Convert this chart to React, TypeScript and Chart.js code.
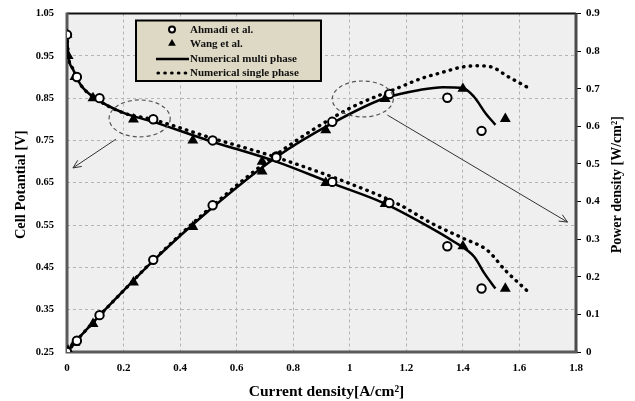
import React, { useEffect, useRef } from "react";
import { Chart, registerables } from "chart.js";
Chart.register(...registerables);

// ---- tick values ----
const xTicks = [0, 0.2, 0.4, 0.6, 0.8, 1, 1.2, 1.4, 1.6, 1.8];
const leftTicks = [0.25, 0.35, 0.45, 0.55, 0.65, 0.75, 0.85, 0.95, 1.05];
const rightTicks = [0, 0.1, 0.2, 0.3, 0.4, 0.5, 0.6, 0.7, 0.8, 0.9];

// ---- series labels ----
const seriesLabels = ["Ahmadi et al.", "Wang et al.", "Numerical multi phase", "Numerical single phase"];

// ---- Ahmadi et al. (experiment) ----
const ahmadiI = [0, 0.035, 0.115, 0.305, 0.515, 0.74, 0.938, 1.14, 1.345, 1.466];
const ahmadiV = [1.0, 0.9, 0.85, 0.8, 0.75, 0.71, 0.652, 0.602, 0.5, 0.4];
const ahmadiP = [0, 0.03, 0.098, 0.245, 0.39, 0.52, 0.612, 0.686, 0.676, 0.588];

// ---- Wang et al. (experiment) ----
const wangI = [0, 0.004, 0.028, 0.092, 0.235, 0.445, 0.69, 0.915, 1.125, 1.4, 1.55];
const wangV = [1.0, 0.95, 0.9, 0.85, 0.8, 0.75, 0.7, 0.65, 0.6, 0.5, 0.4];
const wangP = [0, 0.004, 0.025, 0.075, 0.185, 0.333, 0.48, 0.59, 0.673, 0.7, 0.62];

// ---- Numerical multi phase ----
const multiVI = [0, 0.005, 0.02, 0.05, 0.1, 0.2, 0.3, 0.5, 0.74, 0.94, 1.12, 1.25, 1.37, 1.44, 1.475, 1.515];
const multiV = [1.0, 0.95, 0.92, 0.88, 0.85, 0.815, 0.795, 0.75, 0.7, 0.648, 0.602, 0.557, 0.51, 0.475, 0.437, 0.4];
const multiPI = [0, 0.05, 0.1, 0.2, 0.3, 0.5, 0.74, 0.94, 1.12, 1.25, 1.33, 1.4, 1.44, 1.48, 1.515];
const multiP = [0, 0.044, 0.085, 0.163, 0.239, 0.375, 0.518, 0.609, 0.674, 0.697, 0.704, 0.702, 0.678, 0.635, 0.604];

// ---- Numerical single phase ----
const singleVI = [0, 0.005, 0.02, 0.05, 0.1, 0.2, 0.3, 0.5, 0.74, 1.0, 1.17, 1.296, 1.4, 1.487, 1.55, 1.625];
const singleV = [1.0, 0.95, 0.92, 0.88, 0.85, 0.815, 0.8, 0.758, 0.71, 0.648, 0.6, 0.552, 0.519, 0.49, 0.443, 0.396];
const singlePI = [0, 0.05, 0.1, 0.2, 0.3, 0.5, 0.74, 1.0, 1.17, 1.26, 1.32, 1.4, 1.45, 1.5, 1.56, 1.625];
const singleP = [0, 0.044, 0.085, 0.163, 0.24, 0.379, 0.525, 0.648, 0.702, 0.729, 0.742, 0.758, 0.761, 0.758, 0.732, 0.705];

// ---- annotations (data units, left axis) ----
const ellipseCx = [0.257, 1.046];
const ellipseCy = [0.802, 0.848];
const ellipseRx = [0.108, 0.108];
const ellipseRy = [0.0437, 0.0425];
const arrowFrom = [[0.173, 0.753], [1.133, 0.81]];
const arrowTo = [[0.021, 0.685], [1.77, 0.557]];

const SERIF = "'Liberation Serif', 'Times New Roman', serif";

const zip = (xs: number[], ys: number[]) => xs.map((x, i) => ({ x, y: ys[i] }));

const DOT_DASH = [0.5, 6.3];

function drawArrow(ctx: CanvasRenderingContext2D, x1: number, y1: number, x2: number, y2: number) {
  ctx.beginPath();
  ctx.moveTo(x1, y1);
  ctx.lineTo(x2, y2);
  ctx.stroke();
  const ang = Math.atan2(y2 - y1, x2 - x1);
  const L = 9;
  const spread = 0.42;
  ctx.beginPath();
  ctx.moveTo(x2 - L * Math.cos(ang - spread), y2 - L * Math.sin(ang - spread));
  ctx.lineTo(x2, y2);
  ctx.lineTo(x2 - L * Math.cos(ang + spread), y2 - L * Math.sin(ang + spread));
  ctx.stroke();
}

const decorPlugin = {
  id: "decor",
  beforeDraw(chart: any) {
    const { ctx, chartArea: a } = chart;
    ctx.save();
    ctx.fillStyle = "#ffffff";
    ctx.fillRect(0, 0, chart.width, chart.height);
    ctx.fillStyle = "#efefef";
    ctx.fillRect(a.left, a.top, a.right - a.left, a.bottom - a.top);
    ctx.restore();
  },
  beforeDatasetsDraw(chart: any) {
    const { ctx, chartArea: a } = chart;
    ctx.save();
    ctx.strokeStyle = "#111";
    ctx.lineWidth = 2;
    ctx.beginPath();
    ctx.moveTo(a.left, a.top);
    ctx.lineTo(a.right, a.top);
    ctx.stroke();
    ctx.strokeStyle = "#4a4a4a";
    ctx.lineWidth = 3;
    ctx.beginPath();
    ctx.moveTo(a.right, a.top);
    ctx.lineTo(a.right, a.bottom);
    ctx.stroke();
    ctx.strokeStyle = "#5a5a5a";
    ctx.lineWidth = 3;
    ctx.beginPath();
    ctx.moveTo(a.left, a.top - 1);
    ctx.lineTo(a.left, a.bottom);
    ctx.lineTo(a.right + 1.5, a.bottom);
    ctx.stroke();
    ctx.restore();
  },
  afterDatasetsDraw(chart: any) {
    const { ctx, chartArea: a } = chart;
    const xs = chart.scales.x;
    const ys = chart.scales.y;
    ctx.save();
    ctx.strokeStyle = "#555";
    ctx.lineWidth = 1.2;
    ctx.setLineDash([4, 3]);
    for (let i = 0; i < ellipseCx.length; i++) {
      const cx = xs.getPixelForValue(ellipseCx[i]);
      const cy = ys.getPixelForValue(ellipseCy[i]);
      const rx = xs.getPixelForValue(ellipseCx[i] + ellipseRx[i]) - cx;
      const ry = cy - ys.getPixelForValue(ellipseCy[i] + ellipseRy[i]);
      ctx.beginPath();
      ctx.ellipse(cx, cy, rx, ry, 0, 0, Math.PI * 2);
      ctx.stroke();
    }
    ctx.setLineDash([]);
    ctx.strokeStyle = "#333";
    ctx.lineWidth = 1;
    for (let i = 0; i < arrowFrom.length; i++) {
      drawArrow(
        ctx,
        xs.getPixelForValue(arrowFrom[i][0]),
        ys.getPixelForValue(arrowFrom[i][1]),
        xs.getPixelForValue(arrowTo[i][0]),
        ys.getPixelForValue(arrowTo[i][1])
      );
    }

    // legend
    const lx = a.left + 69;
    const ly = a.top + 7;
    const lw = 185;
    const lh = 60.5;
    ctx.fillStyle = "#ddd9c4";
    ctx.fillRect(lx, ly, lw, lh);
    ctx.strokeStyle = "#000";
    ctx.lineWidth = 2;
    ctx.strokeRect(lx, ly, lw, lh);
    const rows = [9, 23, 38.5, 52.5];
    const symX = lx + 36;
    ctx.font = `bold 11px ${SERIF}`;
    ctx.textAlign = "left";
    ctx.textBaseline = "middle";
    for (let i = 0; i < 4; i++) {
      const y = ly + rows[i];
      ctx.save();
      if (i === 0) {
        ctx.beginPath();
        ctx.arc(symX, y, 3, 0, Math.PI * 2);
        ctx.fillStyle = "#fff";
        ctx.fill();
        ctx.lineWidth = 2;
        ctx.strokeStyle = "#000";
        ctx.stroke();
      } else if (i === 1) {
        const r = 4.5;
        ctx.beginPath();
        ctx.moveTo(symX, y - r);
        ctx.lineTo(symX + r * 0.866, y + r * 0.5);
        ctx.lineTo(symX - r * 0.866, y + r * 0.5);
        ctx.closePath();
        ctx.fillStyle = "#000";
        ctx.fill();
      } else if (i === 2) {
        ctx.beginPath();
        ctx.moveTo(lx + 20, y);
        ctx.lineTo(lx + 53, y);
        ctx.lineWidth = 2.5;
        ctx.strokeStyle = "#000";
        ctx.stroke();
      } else {
        ctx.beginPath();
        ctx.setLineDash(DOT_DASH);
        ctx.lineCap = "round";
        ctx.moveTo(lx + 22, y);
        ctx.lineTo(lx + 53, y);
        ctx.lineWidth = 3.2;
        ctx.strokeStyle = "#000";
        ctx.stroke();
      }
      ctx.restore();
      ctx.fillStyle = "#111";
      ctx.fillText(seriesLabels[i], lx + 54, y + 0.5);
    }
    ctx.restore();
  },
  afterDraw(chart: any) {
    const { ctx, chartArea: a } = chart;
    ctx.save();
    ctx.fillStyle = "#000";
    ctx.textAlign = "center";
    ctx.textBaseline = "middle";
    const cy = (a.top + a.bottom) / 2;
    ctx.save();
    ctx.font = `bold 14.5px ${SERIF}`;
    ctx.translate(21, cy + 2);
    ctx.rotate(-Math.PI / 2);
    ctx.fillText("Cell Potantial [V]", 0, 0);
    ctx.restore();
    ctx.save();
    ctx.font = `bold 14px ${SERIF}`;
    ctx.translate(617, cy + 2);
    ctx.rotate(-Math.PI / 2);
    ctx.fillText("Power density [W/cm\u00B2]", 0, 0);
    ctx.restore();
    ctx.font = `bold 15.5px ${SERIF}`;
    ctx.fillText("Current density[A/cm\u00B2]", (a.left + a.right) / 2 + 5, 392);
    ctx.restore();
  },
};

export default function App() {
  const ref = useRef<HTMLCanvasElement | null>(null);
  useEffect(() => {
    const canvas = ref.current;
    if (!canvas) return;
    const circleStyle = {
      showLine: false,
      pointStyle: "circle",
      pointRadius: 4.2,
      pointBorderWidth: 2,
      pointBackgroundColor: "#ffffff",
      pointBorderColor: "#000000",
      borderColor: "#000000",
      backgroundColor: "#ffffff",
    };
    const triStyle = {
      showLine: false,
      pointStyle: "triangle",
      pointRadius: 6.3,
      pointBorderWidth: 0,
      pointBackgroundColor: "#000000",
      pointBorderColor: "#000000",
      borderColor: "#000000",
      backgroundColor: "#000000",
    };
    const solidStyle = {
      showLine: true,
      pointRadius: 0,
      borderColor: "#000000",
      borderWidth: 2.5,
      cubicInterpolationMode: "monotone",
      fill: false,
    };
    const dotStyle = {
      showLine: true,
      pointRadius: 0,
      borderColor: "#000000",
      borderWidth: 3.4,
      borderDash: DOT_DASH,
      borderCapStyle: "round",
      cubicInterpolationMode: "monotone",
      fill: false,
    };
    const chart = new Chart(canvas, {
      type: "scatter",
      data: {
        datasets: [
          { label: seriesLabels[0], data: zip(ahmadiI, ahmadiV), yAxisID: "y", ...circleStyle },
          { label: seriesLabels[0], data: zip(ahmadiI, ahmadiP), yAxisID: "y2", ...circleStyle },
          { label: seriesLabels[1], data: zip(wangI, wangV), yAxisID: "y", ...triStyle },
          { label: seriesLabels[1], data: zip(wangI, wangP), yAxisID: "y2", ...triStyle },
          { label: seriesLabels[2], data: zip(multiVI, multiV), yAxisID: "y", ...solidStyle },
          { label: seriesLabels[2], data: zip(multiPI, multiP), yAxisID: "y2", ...solidStyle },
          { label: seriesLabels[3], data: zip(singleVI, singleV), yAxisID: "y", ...dotStyle },
          { label: seriesLabels[3], data: zip(singlePI, singleP), yAxisID: "y2", ...dotStyle },
        ] as any,
      },
      options: {
        responsive: false,
        animation: false,
        events: [],
        layout: { padding: { top: 13.5, left: 0, right: 0, bottom: 0 } },
        plugins: { legend: { display: false }, tooltip: { enabled: false }, title: { display: false } },
        scales: {
          x: {
            type: "linear",
            min: 0,
            max: 1.8,
            afterBuildTicks: (s: any) => {
              s.ticks = xTicks.map((v) => ({ value: v }));
            },
            afterFit: (s: any) => {
              s.height = 49;
              s.paddingLeft = 0;
              s.paddingRight = 0;
            },
            ticks: {
              font: { family: SERIF, size: 11, weight: "bold" },
              color: "#000",
              padding: 10,
              maxRotation: 0,
              callback: (v: any) => String(Math.round(Number(v) * 10) / 10),
            },
            grid: { color: "#b4b4b4", lineWidth: 1, drawTicks: false },
            border: { display: false, dash: [3, 3] },
          },
          y: {
            type: "linear",
            position: "left",
            min: 0.25,
            max: 1.05,
            afterBuildTicks: (s: any) => {
              s.ticks = leftTicks.map((v) => ({ value: v }));
            },
            afterFit: (s: any) => {
              s.width = 67;
              s.paddingTop = 0;
              s.paddingBottom = 0;
            },
            ticks: {
              font: { family: SERIF, size: 10.5, weight: "bold" },
              color: "#000",
              padding: 13,
              callback: (v: any) => Number(v).toFixed(2),
            },
            grid: { color: "#b4b4b4", lineWidth: 1, drawTicks: false },
            border: { display: false, dash: [3, 3] },
          },
          y2: {
            type: "linear",
            position: "right",
            min: 0,
            max: 0.9,
            afterBuildTicks: (s: any) => {
              s.ticks = rightTicks.map((v) => ({ value: v }));
            },
            afterFit: (s: any) => {
              s.width = 59;
              s.paddingTop = 0;
              s.paddingBottom = 0;
            },
            ticks: {
              font: { family: SERIF, size: 11, weight: "bold" },
              color: "#000",
              padding: 5,
              callback: (v: any) => String(Math.round(Number(v) * 10) / 10),
            },
            grid: { drawOnChartArea: false, drawTicks: true, tickLength: 5, color: "#000", lineWidth: 1 },
            border: { display: false },
          },
        },
      } as any,
      plugins: [decorPlugin],
    });
    return () => chart.destroy();
  }, []);
  return (
    <div style={{ position: "fixed", left: 0, top: 0, width: 635, height: 401, background: "#fff" }}>
      <canvas ref={ref} width={635} height={401} style={{ display: "block", width: 635, height: 401 }} />
    </div>
  );
}
